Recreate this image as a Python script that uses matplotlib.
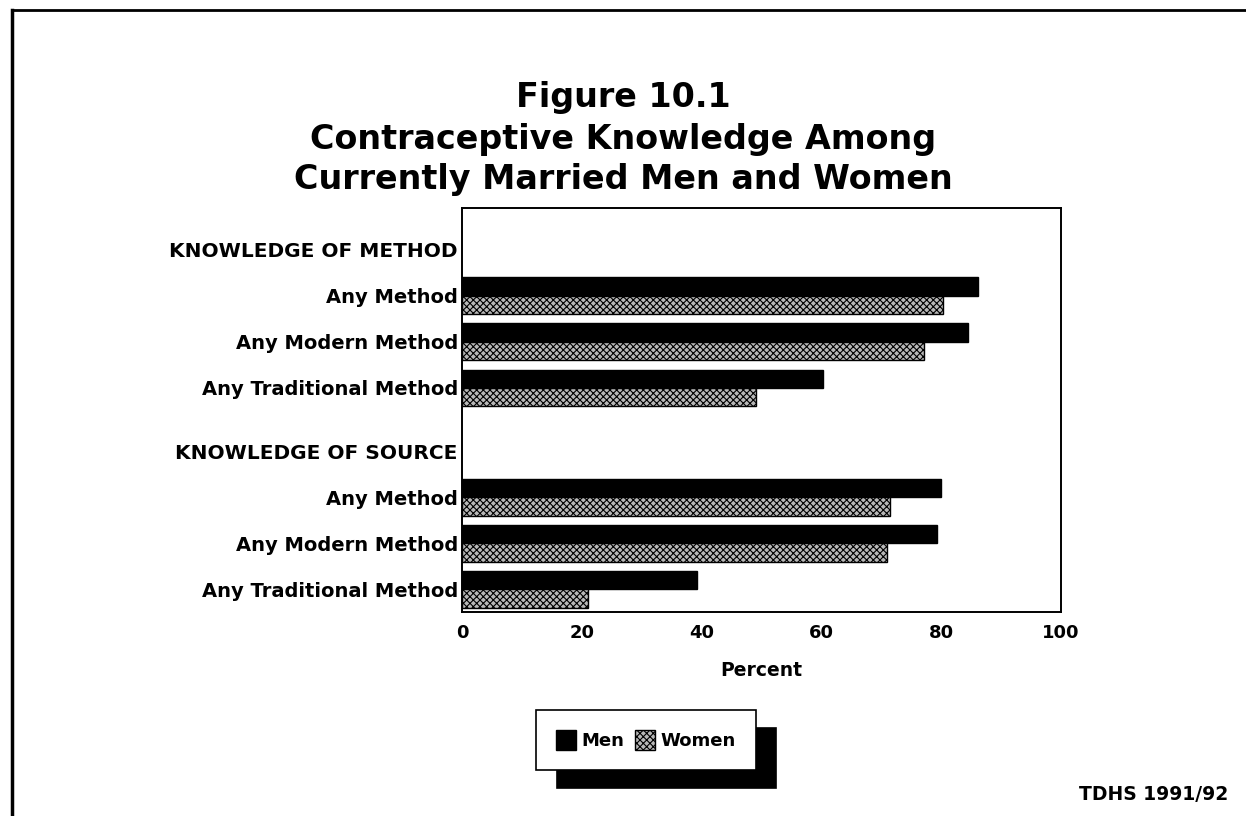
import numpy as np
import matplotlib
matplotlib.use('Agg')
from matplotlib import pyplot as plt
from matplotlib.lines import Line2D
from matplotlib.patches import Patch

plt.rcParams['font.family'] = ['DejaVu Sans']
plt.rcParams['font.weight'] = 'bold'
plt.rcParams['hatch.linewidth'] = 0.8

# data
headers = ['KNOWLEDGE OF METHOD', 'KNOWLEDGE OF SOURCE']
categories = ['Any Method', 'Any Modern Method', 'Any Traditional Method',
              'Any Method', 'Any Modern Method', 'Any Traditional Method']
men = [86.2, 84.5, 60.3, 80.0, 79.3, 39.2]
women = [80.3, 77.2, 49.0, 71.5, 71.0, 21.0]
xticks = [0, 20, 40, 60, 80, 100]

# row layout (a header row, then 3 rows, per block)
header_pos = [0, 4.38]
row_pos = np.array([1, 2, 3, 5.38, 6.38, 7.38])
h = 0.4

fig = plt.figure(figsize=(12.46, 8.16), dpi=100)
ax = fig.add_axes([462/1246, 1-612/816, (1061-462)/1246, (612-208)/816])

ax.barh(row_pos - h/2, men, height=h, color='black', edgecolor='black', linewidth=1)
ax.barh(row_pos + h/2, women, height=h, color='#b8b8b8', edgecolor='black',
        hatch='xxxxx', linewidth=1)

ax.set_xlim(0, 100)
ax.set_ylim(7.87, -0.91)
ax.set_xticks(xticks)
ax.set_xticklabels([str(t) for t in xticks], fontsize=13, fontweight='bold')
ax.set_yticks(list(header_pos) + list(row_pos))
ax.set_yticklabels(headers + categories, fontsize=14, fontweight='bold')
for lab in ax.get_yticklabels()[:2]:
    lab.set_fontsize(14.5)
ax.tick_params(length=0, pad=3)
ax.tick_params(axis='x', pad=9)
for s in ax.spines.values():
    s.set_linewidth(1.4)
ax.set_xlabel('Percent', fontsize=13.5, fontweight='bold', labelpad=13)

# title
fig.text(0.5, 1-97/816, 'Figure 10.1', ha='center', va='center', fontsize=24, fontweight='bold')
fig.text(0.5, 1-139/816, 'Contraceptive Knowledge Among', ha='center', va='center', fontsize=24, fontweight='bold')
fig.text(0.5, 1-180/816, 'Currently Married Men and Women', ha='center', va='center', fontsize=24, fontweight='bold')

# legend with hard black shadow
handles = [Patch(facecolor='black', edgecolor='black'),
           Patch(facecolor='#b8b8b8', edgecolor='black', hatch='xxxxx')]
leg = fig.legend(handles, ['Men', 'Women'], loc='center', bbox_to_anchor=(646/1246, 1-740/816),
                 ncol=2, fontsize=13, frameon=True, fancybox=False, handlelength=1.1,
                 handleheight=1.3, handletextpad=0.3, columnspacing=0.6, borderpad=1.1,
                 edgecolor='black',
                 shadow={'ox': 15, 'oy': -13, 'facecolor': 'black', 'edgecolor': 'black', 'alpha': 1})
leg.get_frame().set_linewidth(1.2)
for t in leg.get_texts():
    t.set_fontweight('bold')

fig.text(1228/1246, 1-795/816, 'TDHS 1991/92', ha='right', va='center', fontsize=13.5, fontweight='bold')

# page border (top and left)
fig.add_artist(Line2D([12/1246, 12/1246], [0, 1-10/816], color='black', linewidth=2.5))
fig.add_artist(Line2D([12/1246, 1], [1-10/816, 1-10/816], color='black', linewidth=2))

fig.savefig('out.png', dpi=100)
